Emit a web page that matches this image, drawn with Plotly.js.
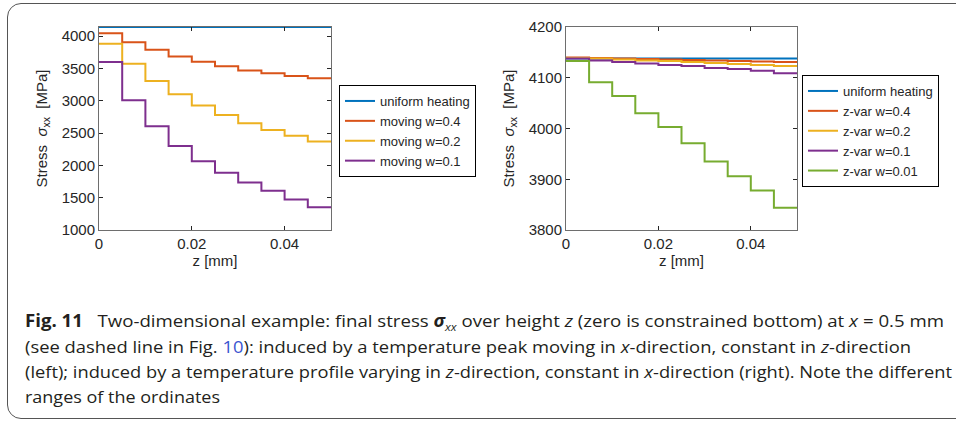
<!DOCTYPE html>
<html>
<head>
<meta charset="utf-8">
<script src="https://cdn.plot.ly/plotly-3.0.1.min.js"></script>
<style>
  html, body { margin: 0; padding: 0; background: #fff; }
  #wrap { position: relative; width: 956px; height: 422px; overflow: hidden; }
  #frame { position: absolute; left: 7px; top: 3px; width: 980px; height: 416px;
           border: 1.3px solid #555; border-radius: 14px; box-sizing: border-box; }
  #chart { position: absolute; left: 0; top: 0; width: 956px; height: 422px; }
  .cap { position: absolute; left: 25px; white-space: nowrap; font-family: "Open Sans", sans-serif;
         font-size: 17px; color: #231f20; transform-origin: 0 50%; line-height: 20px; }
  .cap b { font-weight: 700; }
  .lnk { color: #3a55d0; }
</style>
</head>
<body>
<div id="wrap">
  <div id="frame"></div>
  <div id="chart"></div>
  <div class="cap" id="l1" data-w="919" style="top:311px"><b>Fig. 11</b>&nbsp;&nbsp; Two-dimensional example: final stress <b><i>σ</i></b><sub style="font-size:11px"><i>xx</i></sub> over height <i>z</i> (zero is constrained bottom) at <i>x</i> = 0.5 mm</div>
  <div class="cap" id="l2" data-w="886" style="top:337px">(see dashed line in Fig. <span class="lnk">10</span>): induced by a temperature peak moving in <i>x</i>-direction, constant in <i>z</i>-direction</div>
  <div class="cap" id="l3" data-w="927" style="top:362px">(left); induced by a temperature profile varying in <i>z</i>-direction, constant in <i>x</i>-direction (right). Note the different</div>
  <div class="cap" id="l4" data-w="195" style="top:387px">ranges of the ordinates</div>
</div>
<script>
// z positions of step edges [mm]
var z = [0, 0.005, 0.01, 0.015, 0.02, 0.025, 0.03, 0.035, 0.04, 0.045, 0.05];

// Left panel: moving heat peak
var uniformL = [4139, 4139, 4139, 4139, 4139, 4139, 4139, 4139, 4139, 4139, 4139];
var moving04 = [4045, 3906, 3788, 3685, 3603, 3531, 3469, 3423, 3382, 3346, 3346];
var moving02 = [3881, 3572, 3305, 3099, 2924, 2780, 2651, 2548, 2456, 2368, 2368];
var moving01 = [3598, 3006, 2605, 2301, 2065, 1885, 1735, 1607, 1473, 1350, 1350];

// Right panel: z-varying profile
var uniformR = [4138, 4138, 4138, 4138, 4138, 4138, 4138, 4138, 4138, 4138, 4138];
var zvar04  = [4140, 4139, 4138, 4137, 4136, 4135, 4134, 4133, 4132, 4131, 4131];
var zvar02  = [4139, 4138, 4136, 4134, 4133, 4131, 4129, 4127, 4125, 4123, 4123];
var zvar01  = [4138, 4134, 4131, 4128, 4125, 4123, 4119, 4117, 4114, 4109, 4109];
var zvar001 = [4133, 4091, 4064, 4030, 4003, 3971, 3935, 3906, 3878, 3844, 3844];

var namesL = ['uniform heating', 'moving w=0.4', 'moving w=0.2', 'moving w=0.1'];
var namesR = ['uniform heating', 'z-var w=0.4', 'z-var w=0.2', 'z-var w=0.1', 'z-var w=0.01'];
var colors = ['#0072BD', '#D95319', '#EDB120', '#7E2F8E', '#77AC30'];

var yTicksL = [1000, 1500, 2000, 2500, 3000, 3500, 4000];
var yTicksR = [3800, 3900, 4000, 4100, 4200];
var xTicks = [0, 0.02, 0.04];
var xTickText = ['0', '0.02', '0.04'];

var seriesL = [uniformL, moving04, moving02, moving01];
var seriesR = [uniformR, zvar04, zvar02, zvar01, zvar001];

var traces = [];
seriesL.forEach(function (s, i) {
  traces.push({x: z, y: s, name: namesL[i], type: 'scatter', mode: 'lines',
    line: {shape: 'hv', color: colors[i], width: 2}, xaxis: 'x', yaxis: 'y', legend: 'legend'});
});
seriesR.forEach(function (s, i) {
  traces.push({x: z, y: s, name: namesR[i], type: 'scatter', mode: 'lines',
    line: {shape: 'hv', color: colors[i], width: 2}, xaxis: 'x2', yaxis: 'y2', legend: 'legend2'});
});

var W = 956, H = 422;
function px(a) { return a / W; }
function py(a) { return (H - a) / H; }

var FF = 'Liberation Sans, Arial, sans-serif';
var tickFont = {family: FF, size: 15, color: '#262626'};
var titleFont = {family: FF, size: 15, color: '#262626'};
function xax(dom, anchor) {
  return {domain: dom, anchor: anchor, range: [0, 0.05], tickvals: xTicks, ticktext: xTickText,
    ticks: 'inside', ticklen: 4, tickcolor: '#262626', showline: true, linecolor: '#6e6e6e', linewidth: 1,
    mirror: 'ticks', showgrid: false, zeroline: false, tickfont: tickFont,
    title: {text: 'z [mm]', font: titleFont, standoff: 2}};
}
function yax(range, tv, anchor) {
  return {domain: [py(230), py(27)], anchor: anchor, range: range, tickvals: tv,
    ticks: 'inside', ticklen: 4, tickcolor: '#262626', showline: true, linecolor: '#6e6e6e', linewidth: 1,
    mirror: 'ticks', showgrid: false, zeroline: false, tickfont: tickFont,
    title: {text: 'Stress  <i>σ</i><sub>xx</sub>  [MPa]', font: titleFont, standoff: 10}};
}

var legStyle = {bgcolor: '#fff', bordercolor: '#000', borderwidth: 1,
  font: {family: FF, size: 13, color: '#262626'}, tracegroupgap: 0, itemwidth: 30,
  xanchor: 'left', yanchor: 'top'};

var layout = {
  width: W, height: H, margin: {l: 0, r: 0, t: 0, b: 0},
  paper_bgcolor: 'rgba(0,0,0,0)', plot_bgcolor: '#fff', showlegend: true,
  xaxis: xax([px(99), px(331)], 'y'),
  yaxis: yax([1000, 4140], yTicksL, 'x'),
  xaxis2: xax([px(566), px(797)], 'y2'),
  yaxis2: yax([3800, 4200], yTicksR, 'x2'),
  legend: Object.assign({x: px(339), y: py(85)}, legStyle),
  legend2: Object.assign({x: px(802), y: py(75)}, legStyle)
};

Plotly.newPlot('chart', traces, layout, {staticPlot: true, displayModeBar: false}).then(function () {
  document.querySelectorAll('.cap').forEach(function (el) {
    var w = el.getBoundingClientRect().width;
    var target = parseFloat(el.getAttribute('data-w'));
    el.style.transform = 'scaleX(' + (target / w) + ')';
  });
});
</script>
</body>
</html>
